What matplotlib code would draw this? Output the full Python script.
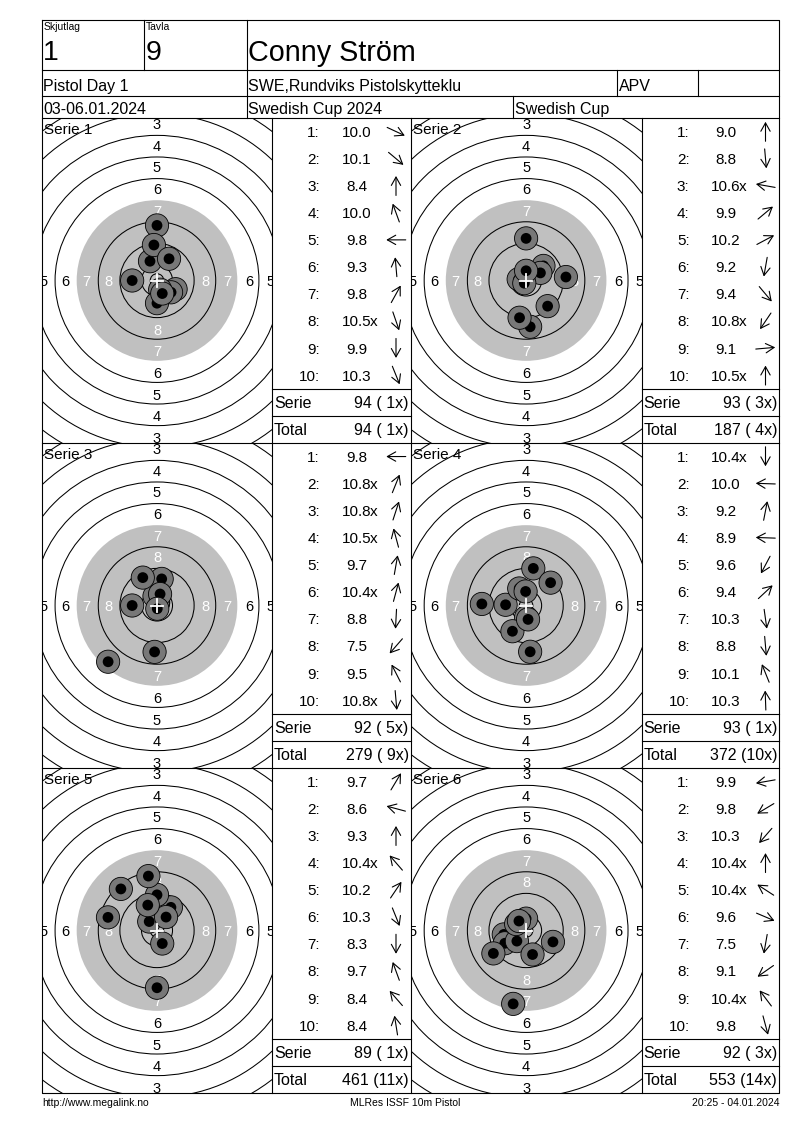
import numpy as np
import matplotlib
matplotlib.use('Agg')
import matplotlib.pyplot as plt
from matplotlib.patches import Circle

plt.rcParams['font.family'] = ['Liberation Sans', 'DejaVu Sans']

# ---------------- data ----------------
shoot_group_label = "Skjutlag"
shoot_group = "1"
lane_label = "Tavla"
lane = "9"
shooter = "Conny Ström"
event = "Pistol Day 1"
club = "SWE,Rundviks Pistolskytteklu"
shooter_class = "APV"
dates = "03-06.01.2024"
competition = "Swedish Cup 2024"
competition_short = "Swedish Cup"
footer_left = "http://www.megalink.no"
footer_mid = "MLRes ISSF 10m Pistol"
footer_right = "20:25 - 04.01.2024"

series_names = ["Serie 1", "Serie 2", "Serie 3", "Serie 4", "Serie 5", "Serie 6"]

# decimal scores per shot
s1_scores = [10.0, 10.1, 8.4, 10.0, 9.8, 9.3, 9.8, 10.5, 9.9, 10.3]
s2_scores = [9.0, 8.8, 10.6, 9.9, 10.2, 9.2, 9.4, 10.8, 9.1, 10.5]
s3_scores = [9.8, 10.8, 10.8, 10.5, 9.7, 10.4, 8.8, 7.5, 9.5, 10.8]
s4_scores = [10.4, 10.0, 9.2, 8.9, 9.6, 9.4, 10.3, 8.8, 10.1, 10.3]
s5_scores = [9.7, 8.6, 9.3, 10.4, 10.2, 10.3, 8.3, 9.7, 8.4, 8.4]
s6_scores = [9.9, 9.8, 10.3, 10.4, 10.4, 9.6, 7.5, 9.1, 10.4, 9.8]

# direction of each shot from target centre (degrees, counter-clockwise from right)
s1_dirs = [-25, -40, 90, 110, 180, 95, 61, -71, -90, -68]
s2_dirs = [90, -85, 170, 40, 28, -100, -50, -124, 5, 90]
s3_dirs = [180, 68, 72, 105, 80, 75, -93, -131, 117, -85]
s4_dirs = [-90, 178, 79, 178, -118, 43, -82, -85, 112, 92]
s5_dirs = [59, 165, 90, 131, 56, -68, -90, 110, 131, 99]
s6_dirs = [-170, -149, -131, 90, 147, -23, -100, -145, 127, -75]

all_scores = [s1_scores, s2_scores, s3_scores, s4_scores, s5_scores, s6_scores]
all_dirs = [s1_dirs, s2_dirs, s3_dirs, s4_dirs, s5_dirs, s6_dirs]

# ---------------- layout ----------------
W, H = 800, 1130
fig = plt.figure(figsize=(8, 11.3), dpi=100)
fig.patch.set_facecolor('white')

PX_PER_MM = 2.70
LEFT, RIGHT, TOP = 42, 779, 20
GRID_TOP = 118
ROW_H = 325.0
COL_X = [42, 272, 410.7, 641.5, 779]
LW = 0.8
FS_ROW = 11
FS_SUM = 11.5


def px_rect(x0, y0, x1, y1):
    return [x0 / W, 1 - y1 / H, (x1 - x0) / W, (y1 - y0) / H]


def ring_r(n):
    # ISSF 10m air pistol target, radius of ring n in mm
    return 5.75 + 8.0 * (10 - n)


ov = fig.add_axes([0, 0, 1, 1], zorder=5)
ov.set_xlim(0, W)
ov.set_ylim(H, 0)
ov.axis('off')
ov.patch.set_visible(False)

GRID_BOTTOM = GRID_TOP + 3 * ROW_H

# outer frame and header lines
ov.plot([LEFT, RIGHT, RIGHT, LEFT, LEFT], [TOP, TOP, GRID_BOTTOM, GRID_BOTTOM, TOP], color='black', lw=LW)
for yy in [70, 96, GRID_TOP]:
    ov.plot([LEFT, RIGHT], [yy, yy], color='black', lw=LW)
ov.plot([144.3, 144.3], [TOP, 70], color='black', lw=LW)
ov.plot([246.7, 246.7], [TOP, GRID_TOP], color='black', lw=LW)
ov.plot([617, 617], [70, 96], color='black', lw=LW)
ov.plot([698, 698], [70, 96], color='black', lw=LW)
ov.plot([513, 513], [96, GRID_TOP], color='black', lw=LW)

# header texts
ov.text(44, 30.5, shoot_group_label, fontsize=7.5, va='baseline', ha='left')
ov.text(146, 30.5, lane_label, fontsize=7.5, va='baseline', ha='left')
ov.text(43, 60.5, shoot_group, fontsize=20.5, va='baseline', ha='left')
ov.text(146, 60.5, lane, fontsize=20.5, va='baseline', ha='left')
ov.text(248, 61, shooter, fontsize=20.7, va='baseline', ha='left')
ov.text(43, 91, event, fontsize=11.5, va='baseline', ha='left')
ov.text(248.5, 91, club, fontsize=11.5, va='baseline', ha='left')
ov.text(618.5, 91, shooter_class, fontsize=11.5, va='baseline', ha='left')
ov.text(43, 114, dates, fontsize=11.5, va='baseline', ha='left')
ov.text(248.5, 114, competition, fontsize=11.5, va='baseline', ha='left')
ov.text(515, 114, competition_short, fontsize=11.5, va='baseline', ha='left')

# grid lines
for r in range(1, 3):
    yy = GRID_TOP + r * ROW_H
    ov.plot([LEFT, RIGHT], [yy, yy], color='black', lw=LW)
for xx in COL_X[1:4]:
    ov.plot([xx, xx], [GRID_TOP, GRID_BOTTOM], color='black', lw=LW)

# footer
ov.text(42, 1105.5, footer_left, fontsize=7.5, va='baseline', ha='left')
ov.text(405, 1105.5, footer_mid, fontsize=7.5, va='baseline', ha='center')
ov.text(779, 1105.5, footer_right, fontsize=7.5, va='baseline', ha='right')

running_total = 0
running_x = 0
RH = ROW_H / 12.0

for i, (scores, dirs) in enumerate(zip(all_scores, all_dirs)):
    row, col = i // 2, i % 2
    x0, x1 = COL_X[2 * col], COL_X[2 * col + 1]
    tx0, tx1 = COL_X[2 * col + 1], COL_X[2 * col + 2]
    y0 = GRID_TOP + row * ROW_H
    y1 = y0 + ROW_H

    # ---- target ----
    ax = fig.add_axes(px_rect(x0, y0, x1, y1), zorder=1)
    hw = (x1 - x0) / 2 / PX_PER_MM
    hh = ROW_H / 2 / PX_PER_MM
    ax.set_xlim(-hw, hw)
    ax.set_ylim(-hh, hh)
    ax.axis('off')
    ax.add_patch(Circle((0, 0), ring_r(7), fc='#c0c0c0', ec='none', zorder=1))
    for n in range(1, 11):
        if n == 7:
            continue
        ax.add_patch(Circle((0, 0), ring_r(n), fill=False, ec='black', lw=0.75, zorder=2))
    ax.add_patch(Circle((0, 0), 2.5, fill=False, ec='black', lw=0.75, zorder=2))
    for n in range(1, 9):
        rr = ring_r(n) - 4.0 + 0.3
        colr = 'white' if n >= 7 else 'black'
        for ddx, ddy in [(0, 1), (0, -1), (1, 0), (-1, 0)]:
            lim = hw if ddx else hh
            if rr > lim:
                continue  # label would lie completely outside the visible target
            ax.text(ddx * rr, ddy * rr, str(n), color=colr, ha='center',
                    va='center_baseline', fontsize=10.5, zorder=3, clip_on=True)
    for k, (s, a) in enumerate(zip(scores, dirs)):
        d = (10.95 - s) * 8.0
        sx = d * np.cos(np.radians(a))
        sy = d * np.sin(np.radians(a))
        z = 4 + k * 0.01
        ax.add_patch(Circle((sx, sy), 4.3, fc='#787878', ec='black', lw=0.6, zorder=z))
        ax.add_patch(Circle((sx, sy), 2.0, fc='black', ec='none', zorder=z + 0.005))
    ax.plot([-2.3, 2.3], [0, 0], color='white', lw=1.3, zorder=10)
    ax.plot([0, 0], [-2.3, 2.3], color='white', lw=1.3, zorder=10)

    ov.text(x0 + 2, y0 + 16, series_names[i], fontsize=11, va='baseline', ha='left')

    # ---- table ----
    serie_total = 0
    serie_x = 0
    for k, (s, a) in enumerate(zip(scores, dirs)):
        yc = y0 + (k + 0.5) * RH
        is_x = s >= 10.4 - 1e-9
        serie_total += int(np.floor(s + 1e-9))
        serie_x += int(is_x)
        ov.text(tx0 + 48, yc + 5.3, f"{k + 1}:", fontsize=FS_ROW, ha='right', va='baseline')
        t = ov.text(tx0 + 84.6, yc + 5.3, f"{s:.1f}", fontsize=FS_ROW, ha='center', va='baseline')
        if is_x:
            ov.annotate('x', xy=(1, 0), xycoords=t, xytext=(-1.2, 0), textcoords='offset points',
                        fontsize=FS_ROW, ha='left', va='bottom')
        cx, cy = tx0 + 124, yc
        L = 19.5
        ddx = np.cos(np.radians(a)) * L / 2
        ddy = -np.sin(np.radians(a)) * L / 2
        ov.annotate('', xy=(cx + ddx, cy + ddy), xytext=(cx - ddx, cy - ddy),
                    arrowprops=dict(arrowstyle='->,head_length=0.5,head_width=0.28',
                                    lw=0.8, color='black', mutation_scale=12,
                                    shrinkA=0, shrinkB=0))
    running_total += serie_total
    running_x += serie_x

    for yy in [y0 + 10 * RH, y0 + 11 * RH]:
        ov.plot([tx0, tx1], [yy, yy], color='black', lw=LW)
    ys = y0 + 10.5 * RH + 5.8
    yt = y0 + 11.5 * RH + 5.8
    ov.text(tx0 + 2, ys, "Serie", fontsize=FS_SUM, ha='left', va='baseline')
    ov.text(tx1 - 2, ys, f"{serie_total} ({serie_x:2d}x)", fontsize=FS_SUM, ha='right', va='baseline')
    ov.text(tx0 + 2, yt, "Total", fontsize=FS_SUM, ha='left', va='baseline')
    ov.text(tx1 - 2, yt, f"{running_total} ({running_x:2d}x)", fontsize=FS_SUM, ha='right', va='baseline')

fig.savefig('out.png', dpi=100, facecolor='white')
